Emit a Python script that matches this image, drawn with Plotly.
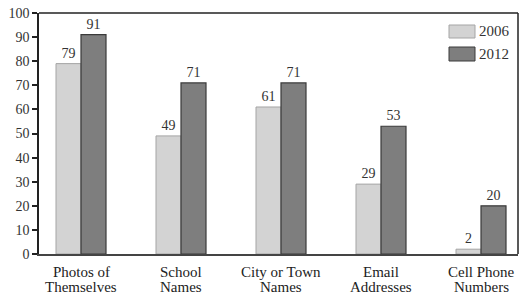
import plotly.graph_objects as go

categories = ["Photos of<br>Themselves", "School<br>Names", "City or Town<br>Names", "Email<br>Addresses", "Cell Phone<br>Numbers"]
values_2006 = [79, 49, 61, 29, 2]
values_2012 = [91, 71, 71, 53, 20]
series_names = ["2006", "2012"]
y_ticks = [0, 10, 20, 30, 40, 50, 60, 70, 80, 90, 100]

FONT = "Liberation Serif"
LIGHT = "#d3d3d3"
LIGHT_EDGE = "#a5a5a5"
DARK = "#7e7e7e"
DARK_EDGE = "#3a3a3a"
xs = list(range(len(categories)))

fig = go.Figure()
fig.add_trace(go.Bar(
    x=xs, y=values_2006, name=series_names[0],
    marker=dict(color=LIGHT, line=dict(color=LIGHT_EDGE, width=1)),
    text=[str(v) for v in values_2006], textposition="outside",
    textfont=dict(family=FONT, size=14, color="#333333"), cliponaxis=False,
))
fig.add_trace(go.Bar(
    x=xs, y=values_2012, name=series_names[1],
    marker=dict(color=DARK, line=dict(color=DARK_EDGE, width=1.2)),
    text=[str(v) for v in values_2012], textposition="outside",
    textfont=dict(family=FONT, size=14, color="#333333"), cliponaxis=False,
))

fig.update_layout(
    width=523, height=299,
    margin=dict(l=39, r=5, t=13, b=45, autoexpand=False),
    paper_bgcolor="white", plot_bgcolor="white",
    barmode="group", bargap=0.5, bargroupgap=0,
    font=dict(family=FONT, size=13, color="#333333"),
    showlegend=False,
    xaxis=dict(range=[-0.42, 4.37], tickmode="array", tickvals=xs,
               ticktext=["" for _ in categories],
               showgrid=False, zeroline=False, showline=True, linecolor="#444444", linewidth=2,
               mirror=False, ticks="", ticklen=0, automargin=False),
    yaxis=dict(range=[0, 100], tickmode="array", tickvals=y_ticks, automargin=False,
               showgrid=False, zeroline=False, showline=True, linecolor="#222222", linewidth=1.5,
               ticks="outside", ticklen=5, tickcolor="#222222", tickwidth=1.5,
               tickfont=dict(family=FONT, size=14, color="#333333")),
)
# top and right frame
fig.add_shape(type="line", xref="paper", yref="paper", x0=0, x1=1, y0=1, y1=1,
              line=dict(color="#222222", width=1.5))
fig.add_shape(type="line", xref="paper", yref="paper", x0=1, x1=1, y0=0, y1=1,
              line=dict(color="#222222", width=1.5))

def px_x(p):
    return (p - 39) / 479.0

def px_y(p):
    return (254 - p) / 241.0

# category labels (two lines with tight spacing like the reference)
for i, cat in enumerate(categories):
    lines = cat.split("<br>")
    for j, line in enumerate(lines):
        fig.add_annotation(xref="x", yref="paper", x=xs[i], y=px_y(272 + 15 * j),
                           text=line, showarrow=False, xanchor="center", yanchor="middle",
                           font=dict(family=FONT, size=15, color="#222222"))

# manual legend (wide swatches like the reference)
legend_rows = [(series_names[0], LIGHT, LIGHT_EDGE, 25, 38), (series_names[1], DARK, DARK_EDGE, 47, 61)]
for name, fill, edge, top, bot in legend_rows:
    fig.add_shape(type="rect", xref="paper", yref="paper",
                  x0=px_x(449), x1=px_x(475), y0=px_y(bot), y1=px_y(top),
                  fillcolor=fill, line=dict(color=edge, width=1))
    fig.add_annotation(xref="paper", yref="paper", x=px_x(477), y=px_y((top + bot) / 2),
                       text=name, showarrow=False, xanchor="left", yanchor="middle",
                       font=dict(family=FONT, size=15, color="#333333"))

fig.write_html("out.html", config={"displayModeBar": False},
               post_script="document.body.style.margin='0';document.body.style.overflow='hidden';")
